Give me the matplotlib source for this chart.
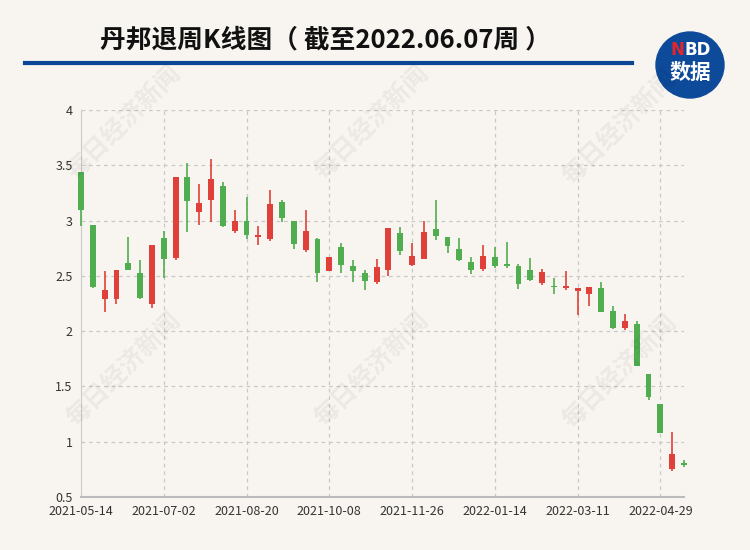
import matplotlib
matplotlib.use("Agg")
import matplotlib.pyplot as plt
from matplotlib.lines import Line2D
from matplotlib.patches import Ellipse

plt.rcParams['font.family'] = ['Noto Sans CJK SC', 'DejaVu Sans']

# weekly OHLC
opens = [3.44, 2.96, 2.29, 2.29, 2.62, 2.53, 2.25, 2.84, 2.66, 3.39,
         3.075, 3.19, 3.31, 2.91, 3.00, 2.85, 2.837, 3.17, 3.00, 2.738,
         2.837, 2.542, 2.765, 2.59, 2.53, 2.443, 2.551, 2.884, 2.60, 2.655,
         2.923, 2.854, 2.744, 2.628, 2.56, 2.667, 2.61, 2.589, 2.551, 2.432,
         2.411, 2.388, 2.361, 2.339, 2.391, 2.179, 2.027, 2.067, 1.615, 1.345,
         0.752, 0.803]
highs = [3.44, 2.96, 2.54, 2.55, 2.85, 2.645, 2.78, 2.91, 3.39, 3.52,
         3.33, 3.56, 3.35, 3.10, 3.21, 2.95, 3.274, 3.19, 3.00, 3.093,
         2.84, 2.667, 2.80, 2.646, 2.557, 2.655, 2.932, 2.94, 2.80, 3.00,
         3.185, 2.854, 2.842, 2.673, 2.783, 2.762, 2.81, 2.604, 2.664, 2.562,
         2.485, 2.545, 2.391, 2.403, 2.448, 2.224, 2.155, 2.094, 1.615, 1.345,
         1.091, 0.839]
lows = [2.955, 2.39, 2.17, 2.25, 2.55, 2.29, 2.21, 2.485, 2.64, 2.90,
        2.964, 2.99, 2.945, 2.886, 2.837, 2.78, 2.813, 2.99, 2.744, 2.72,
        2.44, 2.54, 2.527, 2.446, 2.372, 2.426, 2.497, 2.693, 2.589, 2.649,
        2.82, 2.711, 2.634, 2.515, 2.542, 2.574, 2.574, 2.378, 2.452, 2.414,
        2.336, 2.376, 2.142, 2.224, 2.17, 2.021, 2.012, 1.688, 1.379, 1.08,
        0.733, 0.77]
closes = [3.10, 2.40, 2.37, 2.55, 2.55, 2.30, 2.78, 2.65, 3.39, 3.18,
          3.157, 3.377, 2.95, 3.00, 2.867, 2.867, 3.148, 3.02, 2.786, 2.907,
          2.527, 2.667, 2.60, 2.54, 2.452, 2.577, 2.932, 2.729, 2.68, 2.896,
          2.857, 2.771, 2.64, 2.551, 2.679, 2.589, 2.589, 2.423, 2.464, 2.539,
          2.40, 2.412, 2.391, 2.403, 2.17, 2.027, 2.091, 1.688, 1.406, 1.082,
          0.885, 0.785]
tick_pos = [0, 7, 14, 21, 28, 35, 42, 49]
tick_labels = ['2021-05-14', '2021-07-02', '2021-08-20', '2021-10-08',
               '2021-11-26', '2022-01-14', '2022-03-11', '2022-04-29']

bg = '#f8f5f0'
red = '#e0403a'
green = '#50ad50'

fig = plt.figure(figsize=(7.5, 5.5), dpi=100, facecolor=bg)
ax = fig.add_axes([81 / 750, 53 / 550, 603 / 750, 387 / 550])
ax.set_facecolor('none')

x = list(range(len(opens)))
colors = [red if c >= o else green for o, c in zip(opens, closes)]
bottoms = [min(o, c) for o, c in zip(opens, closes)]
heights = [max(abs(c - o), 0.012) for o, c in zip(opens, closes)]

ax.vlines(x, lows, highs, colors=colors, linewidth=1.2, zorder=3, clip_on=False)
ax.bar(x, heights, bottom=bottoms, width=0.5, color=colors, zorder=4, clip_on=False)

ax.set_xlim(0, 51)
ax.set_ylim(0.5, 4)
ax.set_yticks([0.5, 1, 1.5, 2, 2.5, 3, 3.5, 4])
ax.set_yticklabels(['0.5', '1', '1.5', '2', '2.5', '3', '3.5', '4'])
ax.set_xticks(tick_pos)
ax.set_xticklabels(tick_labels)
ax.tick_params(length=0, labelsize=9, colors='#333333', pad=6)
ax.grid(True, color='#c8c8c8', linestyle=(0, (3, 3)), linewidth=0.9, zorder=0)
for s in ['top', 'right']:
    ax.spines[s].set_visible(False)
ax.spines['left'].set_color('#cccccc')
ax.spines['bottom'].set_color('#bbbbbb')
ax.spines['bottom'].set_linewidth(1.5)

# title, rule and logo
fig.text(325 / 750, 1 - 40 / 550, '丹邦退周K线图（ 截至2022.06.07周 ）',
         ha='center', va='center', fontsize=18.5, fontweight='bold', color='#111111')
fig.add_artist(Line2D([25 / 750, 632 / 750], [1 - 63 / 550] * 2,
                      linewidth=3, color='#0b4596'))
fig.add_artist(Ellipse((690 / 750, 1 - 65 / 550), 68 / 750, 66 / 550,
                       transform=fig.transFigure, color='#0d4a9a'))
fig.text(670 / 750, 1 - 50 / 550, 'N', ha='left', va='center', fontsize=12,
         fontweight='bold', color='#e3262c', family='DejaVu Sans')
fig.text(684 / 750, 1 - 50 / 550, 'BD', ha='left', va='center', fontsize=12,
         fontweight='bold', color='white', family='DejaVu Sans')
fig.text(690 / 750, 1 - 72 / 550, '数据', ha='center', va='center', fontsize=15,
         fontweight='bold', color='white')

# watermark
for wx, wy in [(124, 123), (372, 123), (620, 128), (124, 370), (372, 370), (620, 372)]:
    fig.text(wx / 750, 1 - wy / 550, '每日经济新闻', rotation=45, ha='center', va='center',
             fontsize=18, fontweight='bold', color='#000000', alpha=0.05)

fig.savefig('out.png', dpi=100, facecolor=bg)
